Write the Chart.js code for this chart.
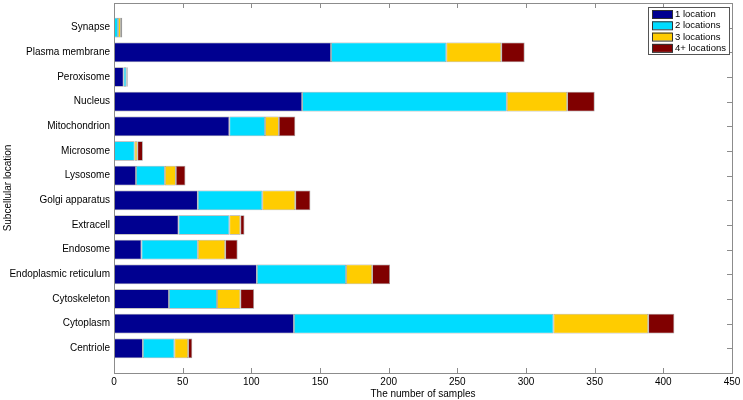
<!DOCTYPE html>
<html lang="en">
<head>
    <meta charset="UTF-8">
    <title>Subcellular location samples</title>
    <script src="https://cdn.jsdelivr.net/npm/chart.js@4.4.0/dist/chart.umd.min.js"></script>
    <style>
        body {
            margin: 0;
            background: #ffffff;
        }
        #wrap {
            width: 743px;
            height: 400px;
        }
    </style>
</head>
<body>

<div id="wrap">
    <canvas id="locChart" width="743" height="400"></canvas>
</div>

<script>
    // categories, listed top to bottom as they appear
    const locations = ['Synapse', 'Plasma membrane', 'Peroxisome', 'Nucleus', 'Mitochondrion',
        'Microsome', 'Lysosome', 'Golgi apparatus', 'Extracell', 'Endosome',
        'Endoplasmic reticulum', 'Cytoskeleton', 'Cytoplasm', 'Centriole'];

    const oneLocation   = [0, 158, 7, 137, 84, 0, 16, 61, 47, 20, 104, 40, 131, 21];
    const twoLocations  = [3, 84, 2, 149, 26, 15, 21, 47, 37, 41, 65, 35, 189, 23];
    const threeLocations = [2, 40, 0, 44, 10, 2, 8, 24, 8, 20, 19, 17, 69, 10];
    const fourPlus      = [1, 17, 1, 20, 12, 4, 7, 11, 3, 9, 13, 10, 19, 3];

    const seriesNames = ['1 location', '2 locations', '3 locations', '4+ locations'];
    const seriesColors = ['#000090', '#00dcff', '#ffcc00', '#800000'];
    const xTicks = [0, 50, 100, 150, 200, 250, 300, 350, 400, 450];

    const FONT = '"Liberation Sans", Arial, Helvetica, sans-serif';
    const n = locations.length;

    // row position on the y axis: top row gets the highest value
    function rows(values) {
        return values.map((v, i) => ({ x: v, y: n - i }));
    }

    const allSeries = [oneLocation, twoLocations, threeLocations, fourPlus];
    const datasets = allSeries.map((vals, k) => ({
        label: seriesNames[k],
        data: rows(vals),
        backgroundColor: seriesColors[k],
        borderColor: 'rgba(70,70,70,0.55)',
        borderWidth: 0.8,
        borderSkipped: false,
        barPercentage: 0.8,
        categoryPercentage: 1
    }));

    // box around the plot with inward ticks, like the original figure
    const boxPlugin = {
        id: 'boxTicks',
        afterDatasetsDraw(chart) {
            const { ctx, chartArea: a, scales } = chart;
            ctx.save();
            ctx.strokeStyle = '#8c8c8c';
            ctx.lineWidth = 1;
            ctx.strokeRect(Math.round(a.left) + 0.5, Math.round(a.top) + 0.5,
                Math.round(a.right - a.left), Math.round(a.bottom - a.top));
            ctx.beginPath();
            xTicks.forEach(t => {
                const px = Math.round(scales.x.getPixelForValue(t)) + 0.5;
                ctx.moveTo(px, a.bottom); ctx.lineTo(px, a.bottom - 5);
                ctx.moveTo(px, a.top); ctx.lineTo(px, a.top + 5);
            });
            // left ticks sit under the bars in the original, only the right ones show
            for (let r = 1; r <= n; r++) {
                const py = Math.round(scales.y.getPixelForValue(r)) + 0.5;
                ctx.moveTo(a.right, py); ctx.lineTo(a.right - 5, py);
            }
            ctx.stroke();
            ctx.restore();
        }
    };

    // legend box in the top right corner of the plot
    const legendPlugin = {
        id: 'boxLegend',
        afterDraw(chart) {
            const { ctx, chartArea: a } = chart;
            const w = 81, h = 47;
            const x0 = a.right - 3 - w, y0 = a.top + 4;
            ctx.save();
            ctx.fillStyle = '#ffffff';
            ctx.fillRect(x0, y0, w, h);
            ctx.strokeStyle = '#555555';
            ctx.lineWidth = 1;
            ctx.strokeRect(x0 + 0.5, y0 + 0.5, w, h);
            ctx.font = '9.5px ' + FONT;
            ctx.textBaseline = 'middle';
            chart.data.datasets.forEach((ds, i) => {
                const cy = y0 + 7 + i * 11.3;
                ctx.fillStyle = ds.backgroundColor;
                ctx.fillRect(x0 + 4, cy - 4, 20, 8);
                ctx.strokeStyle = '#333333';
                ctx.strokeRect(x0 + 4.5, cy - 3.5, 20, 8);
                ctx.fillStyle = '#000000';
                ctx.fillText(ds.label, x0 + 27, cy + 0.5);
            });
            ctx.restore();
        }
    };

    // drop the extra room Chart.js keeps for edge labels
    function noEdgePadding(s) {
        s.paddingTop = 0;
        s.paddingBottom = 0;
        s.paddingLeft = 0;
        s.paddingRight = 0;
    }

    new Chart(document.getElementById('locChart'), {
        type: 'bar',
        data: { datasets: datasets },
        plugins: [boxPlugin, legendPlugin],
        options: {
            indexAxis: 'y',
            responsive: false,
            animation: false,
            layout: { padding: { left: 0, right: 11, top: 3, bottom: 0 } },
            plugins: {
                legend: { display: false },
                tooltip: { enabled: false }
            },
            scales: {
                x: {
                    type: 'linear',
                    stacked: true,
                    min: 0,
                    max: 450,
                    grid: { display: false, drawTicks: false },
                    border: { display: false },
                    afterBuildTicks: s => { s.ticks = xTicks.map(v => ({ value: v })); },
                    afterFit: s => { s.height = 27; noEdgePadding(s); },
                    ticks: {
                        padding: 3,
                        maxRotation: 0,
                        color: '#000000',
                        font: { family: FONT, size: 10 }
                    },
                    title: {
                        display: true,
                        text: 'The number of samples',
                        color: '#000000',
                        padding: 0,
                        font: { family: FONT, size: 10 }
                    }
                },
                y: {
                    type: 'linear',
                    stacked: true,
                    offset: false,
                    min: 0,
                    max: n + 1,
                    grid: { display: false, drawTicks: false },
                    border: { display: false },
                    afterBuildTicks: s => { s.ticks = locations.map((_, i) => ({ value: i + 1 })); },
                    afterFit: s => { s.width = 114; noEdgePadding(s); },
                    ticks: {
                        autoSkip: false,
                        padding: 4,
                        color: '#000000',
                        font: { family: FONT, size: 10 },
                        callback: v => (v >= 1 && v <= n) ? locations[n - v] : ''
                    },
                    title: {
                        display: true,
                        text: 'Subcellular location',
                        color: '#000000',
                        padding: { top: 2, bottom: 0 },
                        font: { family: FONT, size: 10 }
                    }
                }
            }
        }
    });
</script>

</body>
</html>
